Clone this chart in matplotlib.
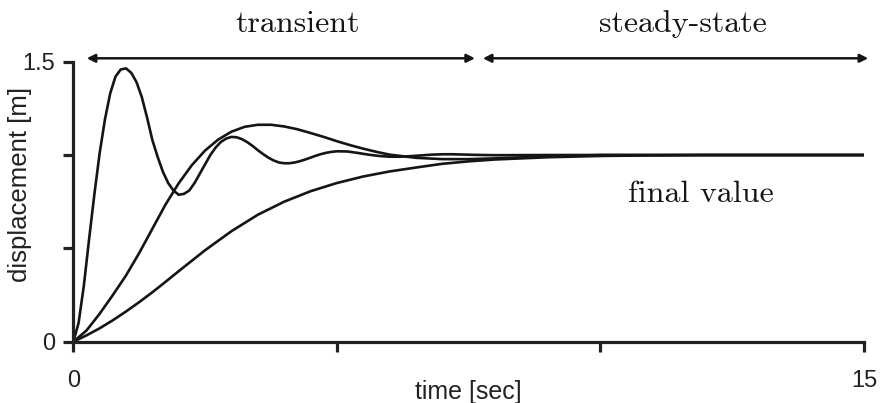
import matplotlib.pyplot as plt

# step responses: time [sec] and displacement [m]
t_fast = [0, 0.1, 0.2, 0.3, 0.4, 0.5, 0.6, 0.7, 0.8, 0.9, 1.0, 1.1, 1.2, 1.3, 1.4, 1.5,
          1.6, 1.7, 1.8, 1.9, 2.0, 2.1, 2.2, 2.3, 2.4, 2.5, 2.6, 2.7, 2.8, 2.9, 3.0, 3.1,
          3.2, 3.3, 3.4, 3.5, 3.6, 3.7, 3.8, 3.9, 4.0, 4.1, 4.2, 4.3, 4.4, 4.5, 4.6, 4.7,
          4.8, 4.9, 5.0, 5.2, 5.4, 5.6, 5.8, 6.0, 6.2, 6.4, 6.6, 6.8, 7.0, 7.2, 7.6, 8.0,
          9.0, 10.0, 12.0, 15.0]
y_fast = [0, 0.10, 0.30, 0.55, 0.79, 1.01, 1.19, 1.33, 1.42, 1.458, 1.464, 1.44, 1.39, 1.31, 1.20, 1.08,
          0.99, 0.91, 0.85, 0.81, 0.787, 0.792, 0.81, 0.85, 0.90, 0.95, 1.00, 1.04, 1.07, 1.088, 1.097, 1.095,
          1.085, 1.069, 1.049, 1.026, 1.005, 0.986, 0.971, 0.960, 0.956, 0.956, 0.960, 0.967, 0.976, 0.986, 0.996, 1.005,
          1.012, 1.017, 1.020, 1.019, 1.011, 1.002, 0.995, 0.991, 0.991, 0.994, 0.998, 1.002, 1.004, 1.004, 1.001, 0.999,
          1.0, 1.0, 1.0, 1.0]

t_mid = [0, 0.25, 0.5, 0.75, 1.0, 1.25, 1.5, 1.75, 2.0, 2.25, 2.5, 2.75, 3.0, 3.25, 3.5, 3.75,
         4.0, 4.25, 4.5, 4.75, 5.0, 5.25, 5.5, 5.75, 6.0, 6.5, 7.0, 7.5, 8.0, 9.0, 10.0, 12.0, 15.0]
y_mid = [0, 0.06, 0.15, 0.25, 0.355, 0.475, 0.605, 0.735, 0.849, 0.946, 1.024, 1.083, 1.125, 1.151, 1.162, 1.162,
         1.153, 1.138, 1.118, 1.097, 1.074, 1.053, 1.034, 1.017, 1.002, 0.985, 0.978, 0.978, 0.982, 0.993, 1.0, 1.0, 1.0]

t_slow = [0, 0.25, 0.5, 0.75, 1.0, 1.25, 1.5, 1.75, 2.0, 2.5, 3.0, 3.5, 4.0, 4.5, 5.0, 5.5,
          6.0, 6.5, 7.0, 7.5, 8.0, 9.0, 10.0, 11.0, 12.0, 15.0]
y_slow = [0, 0.034, 0.072, 0.115, 0.162, 0.212, 0.265, 0.321, 0.378, 0.490, 0.592, 0.680, 0.750, 0.806, 0.850, 0.885,
          0.912, 0.933, 0.953, 0.966, 0.976, 0.988, 0.995, 0.998, 1.0, 1.0]

x_ticks = [0, 5, 10, 15]
x_ticklabels = ['0', '', '', '15']
y_ticks = [0, 0.5, 1.0, 1.5]
y_ticklabels = ['0', '', '', '1.5']

sans = ['Liberation Sans', 'DejaVu Sans']
serif = ['cmr10', 'DejaVu Serif']
ink = '#151515'

fig = plt.figure(figsize=(8.82, 4.03), dpi=100)
ax = fig.add_axes([0.0831, 0.152, 0.8965, 0.695])

for t, y in [(t_fast, y_fast), (t_mid, y_mid), (t_slow, y_slow)]:
    ax.plot(t, y, color=ink, lw=1.9, solid_joinstyle='round')

ax.set_xlim(0, 15)
ax.set_ylim(0, 1.5)
for side in ['top', 'right']:
    ax.spines[side].set_visible(False)
for side in ['left', 'bottom']:
    ax.spines[side].set_linewidth(2.3)
    ax.spines[side].set_color('#222222')

ax.set_xticks(x_ticks)
ax.set_xticklabels(x_ticklabels, family=sans, fontsize=17, color='#222222')
ax.set_yticks(y_ticks)
ax.set_yticklabels(y_ticklabels, family=sans, fontsize=17, color='#222222')
ax.tick_params(axis='both', direction='out', length=7, width=2.3, color='#222222')
ax.tick_params(axis='x', pad=13)
ax.tick_params(axis='y', pad=6)

ax.set_xlabel('time [sec]', family=sans, fontsize=18, color='#222222')
ax.xaxis.set_label_coords(0.5, -0.135)
ax.set_ylabel('displacement [m]', family=sans, fontsize=18.5, color='#222222')
ax.yaxis.set_label_coords(-0.052, 0.56)

# transient / steady-state spans above the plot
arrow = dict(arrowstyle='<|-|>', color=ink, lw=1.8, mutation_scale=12, shrinkA=0, shrinkB=0)
ax.annotate('', xy=(7.62, 1.518), xytext=(0.255, 1.518), arrowprops=arrow, annotation_clip=False)
ax.annotate('', xy=(15.08, 1.518), xytext=(7.77, 1.518), arrowprops=arrow, annotation_clip=False)
ax.text(4.25, 1.66, 'transient', ha='center', va='baseline', fontsize=23, family=serif, color=ink, clip_on=False)
ax.text(11.57, 1.66, 'steady-state', ha='center', va='baseline', fontsize=23, family=serif, color=ink, clip_on=False)
ax.text(11.9, 0.75, 'final value', ha='center', va='baseline', fontsize=23, family=serif, color=ink)

fig.savefig('out.png', dpi=100)
